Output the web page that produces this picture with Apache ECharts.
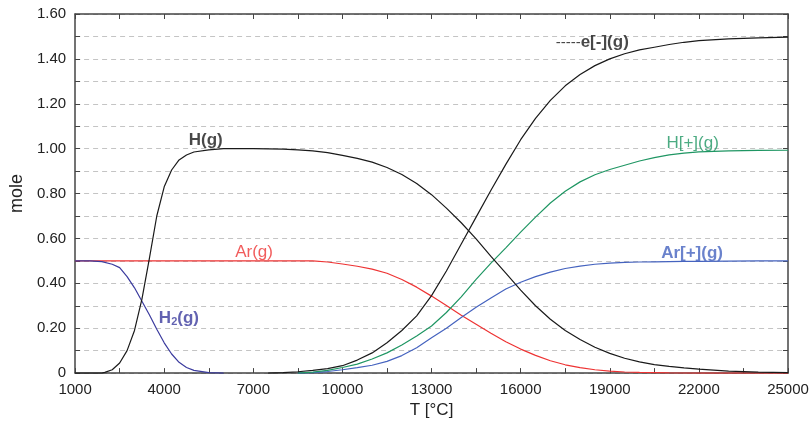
<!DOCTYPE html>
<html>
<head>
<meta charset="utf-8">
<script src="https://cdn.jsdelivr.net/npm/echarts@6/dist/echarts.min.js"></script>
<style>html,body{margin:0;padding:0;background:#fff}#c{width:812px;height:424px}</style>
</head>
<body>
<div id="c"></div>
<script>
// Temperature (°C) and mole values
var T_H = [1000,1500,1900,2000,2250,2500,2750,3000,3250,3500,3750,4000,4250,4500,4750,5000,5500,6000,7000,8000,8500,9000,9500,10000,10500,11000,11500,12000,12500,13000,13500,14000,14500,15000,15500,16000,16500,17000,17500,18000,18500,19000,19500,20000,20500,21000,21500,22000,23000,24000,25000];
var H_g = [0,0,0,0.003,0.015,0.045,0.1,0.19,0.33,0.51,0.7,0.83,0.905,0.95,0.972,0.985,0.995,1.0,1.0,0.998,0.995,0.99,0.982,0.97,0.957,0.94,0.916,0.885,0.845,0.795,0.735,0.67,0.598,0.52,0.445,0.37,0.3,0.24,0.19,0.15,0.115,0.088,0.066,0.05,0.038,0.03,0.023,0.018,0.009,0.004,0.002];

var T_H2 = [1000,1500,1900,2250,2500,2750,3000,3250,3500,3750,4000,4250,4500,4750,5000,5500,6000];
var H2_g = [0.5,0.5,0.497,0.485,0.47,0.43,0.38,0.32,0.26,0.195,0.135,0.085,0.048,0.025,0.012,0.002,0];

var T_ion = [7500,8000,8500,9000,9500,10000,10500,11000,11500,12000,12500,13000,13500,14000,14500,15000,15500,16000,16500,17000,17500,18000,18500,19000,19500,20000,20500,21000,21500,22000,23000,24000,25000];
var e_g   = [0,0.002,0.006,0.012,0.02,0.033,0.058,0.09,0.135,0.19,0.255,0.345,0.455,0.575,0.695,0.815,0.93,1.04,1.135,1.215,1.28,1.33,1.37,1.40,1.423,1.44,1.452,1.464,1.474,1.481,1.489,1.494,1.497];
var Hp_g  = [null,null,0,0.004,0.012,0.025,0.04,0.063,0.09,0.125,0.165,0.21,0.27,0.34,0.418,0.49,0.558,0.628,0.695,0.758,0.81,0.852,0.884,0.907,0.926,0.945,0.96,0.972,0.98,0.986,0.99,0.992,0.993];
var Arp_g = [null,null,0,0.002,0.007,0.015,0.024,0.035,0.052,0.078,0.113,0.157,0.2,0.248,0.293,0.335,0.375,0.405,0.43,0.45,0.466,0.477,0.485,0.49,0.493,0.495,0.496,0.497,0.498,0.498,0.499,0.5,0.5];

var T_Ar = [1000,4000,7000,9000,9500,10000,10500,11000,11500,12000,12500,13000,13500,14000,14500,15000,15500,16000,16500,17000,17500,18000,18500,19000,19500,20000,21000,22000,25000];
var Ar_g = [0.5,0.5,0.5,0.5,0.495,0.486,0.476,0.463,0.445,0.417,0.383,0.343,0.301,0.258,0.218,0.178,0.14,0.107,0.079,0.055,0.037,0.024,0.015,0.009,0.005,0.003,0.001,0,0];

// curve labels (data coordinates)
var labelText = ['H(g)','e[-](g)','H[+](g)','Ar(g)','Ar[+](g)','H2(g)'];
var labelT = [5400,18410,21790,7025,21770,4495];
var labelV = [1.036,1.473,1.022,0.538,0.533,0.244];

var xTicks = {min:1000,max:25000,interval:3000};
var yTicks = {min:0,max:1.6,interval:0.2};

function zip(xs, ys){ var o=[]; for(var i=0;i<xs.length;i++){ if(ys[i]!==null) o.push([xs[i],ys[i]]);} return o; }

var BLACK='#1a1a1a', RED='#ee3333', GREEN='#1f9663', BLUE='#4563bf', PURPLE='#3b3b9e';
var FONT='Liberation Sans, Arial, sans-serif';

function lineSeries(name, data, color){
  return {name:name,type:'line',data:data,symbol:'none',smooth:false,
    lineStyle:{color:color,width:1.2},xAxisIndex:0,yAxisIndex:0,z:3,animation:false};
}

var labelStyles = [
  {color:BLACK,fontWeight:'bold'},
  {color:BLACK,fontWeight:'bold'},
  {color:GREEN,fontWeight:'normal'},
  {color:RED,fontWeight:'normal'},
  {color:BLUE,fontWeight:'bold'},
  {color:PURPLE,fontWeight:'bold'}
];

var labelSeries = labelText.map(function(t,i){
  var st = labelStyles[i];
  var fmt = t;
  var rich = {};
  if (i===1){ fmt = '{d|-----}' + t; rich.d = {fontWeight:'normal',color:BLACK,fontSize:15,fontFamily:FONT}; }
  if (i===5){ fmt = 'H{s|2}(g)'; rich.s = {fontSize:11,fontWeight:'bold',color:PURPLE,fontFamily:FONT,padding:[8,0,0,0]}; }
  return {type:'scatter',data:[[labelT[i],labelV[i]]],symbolSize:0,silent:true,animation:false,z:5,
    label:{show:true,position:'inside',formatter:fmt,rich:rich,color:st.color,fontWeight:st.fontWeight,
      fontSize:17,fontFamily:FONT}};
});

var axisLineStyle = {color:'#444',width:1.5};

var option = {
  backgroundColor:'#fff',
  animation:false,
  grid:{left:67,right:24,top:14,bottom:50,containLabel:false},
  xAxis:[{
    type:'value',min:xTicks.min,max:xTicks.max,interval:xTicks.interval,position:'bottom',
    name:'T [°C]',nameLocation:'middle',nameGap:28,
    nameTextStyle:{fontSize:17,color:'#222',fontFamily:FONT},
    axisLine:{show:true,onZero:false,lineStyle:axisLineStyle},
    axisTick:{show:true,inside:true,length:5,lineStyle:{color:'#444'}},
    minorTick:{show:true,splitNumber:2,length:5,lineStyle:{color:'#444'}},
    axisLabel:{fontSize:15,color:'#222',fontFamily:FONT,margin:9,showMaxLabel:true,
      formatter:function(v){ return String(v); }},
    splitLine:{show:false}
  },{
    type:'value',min:xTicks.min,max:xTicks.max,interval:xTicks.interval,position:'top',
    axisLine:{show:true,onZero:false,lineStyle:axisLineStyle},
    axisTick:{show:true,inside:true,length:5,lineStyle:{color:'#444'}},
    minorTick:{show:true,splitNumber:2,length:5,lineStyle:{color:'#444'}},
    axisLabel:{show:false},splitLine:{show:false}
  }],
  yAxis:[{
    type:'value',min:yTicks.min,max:yTicks.max,interval:yTicks.interval,position:'left',
    name:'mole',nameLocation:'middle',nameGap:44,nameRotate:90,
    nameTextStyle:{fontSize:18,color:'#222',fontFamily:FONT},
    axisLine:{show:true,onZero:false,lineStyle:axisLineStyle},
    axisTick:{show:true,inside:true,length:5,lineStyle:{color:'#444'}},
    minorTick:{show:true,splitNumber:2,length:5,lineStyle:{color:'#444'}},
    axisLabel:{fontSize:15,color:'#222',fontFamily:FONT,margin:9,
      formatter:function(v){ return v===0 ? '0' : v.toFixed(2); }},
    splitLine:{show:true,lineStyle:{color:'#c4c4c4',type:[5,4],width:1}},
    minorSplitLine:{show:true,lineStyle:{color:'#c4c4c4',type:[5,4],width:1}}
  },{
    type:'value',min:yTicks.min,max:yTicks.max,interval:yTicks.interval,position:'right',
    axisLine:{show:true,onZero:false,lineStyle:axisLineStyle},
    axisTick:{show:true,inside:true,length:5,lineStyle:{color:'#444'}},
    minorTick:{show:true,splitNumber:2,length:5,lineStyle:{color:'#444'}},
    axisLabel:{show:false},splitLine:{show:false}
  }],
  series:[
    lineSeries('Ar(g)', zip(T_Ar,Ar_g), RED),
    lineSeries('H2(g)', zip(T_H2,H2_g), PURPLE),
    lineSeries('Ar[+](g)', zip(T_ion,Arp_g), BLUE),
    lineSeries('H[+](g)', zip(T_ion,Hp_g), GREEN),
    lineSeries('H(g)', zip(T_H,H_g), BLACK),
    lineSeries('e[-](g)', zip(T_ion,e_g), BLACK)
  ].concat(labelSeries)
};

var chart = echarts.init(document.getElementById('c'), null, {renderer:'canvas'});
chart.setOption(option);
</script>
</body>
</html>
